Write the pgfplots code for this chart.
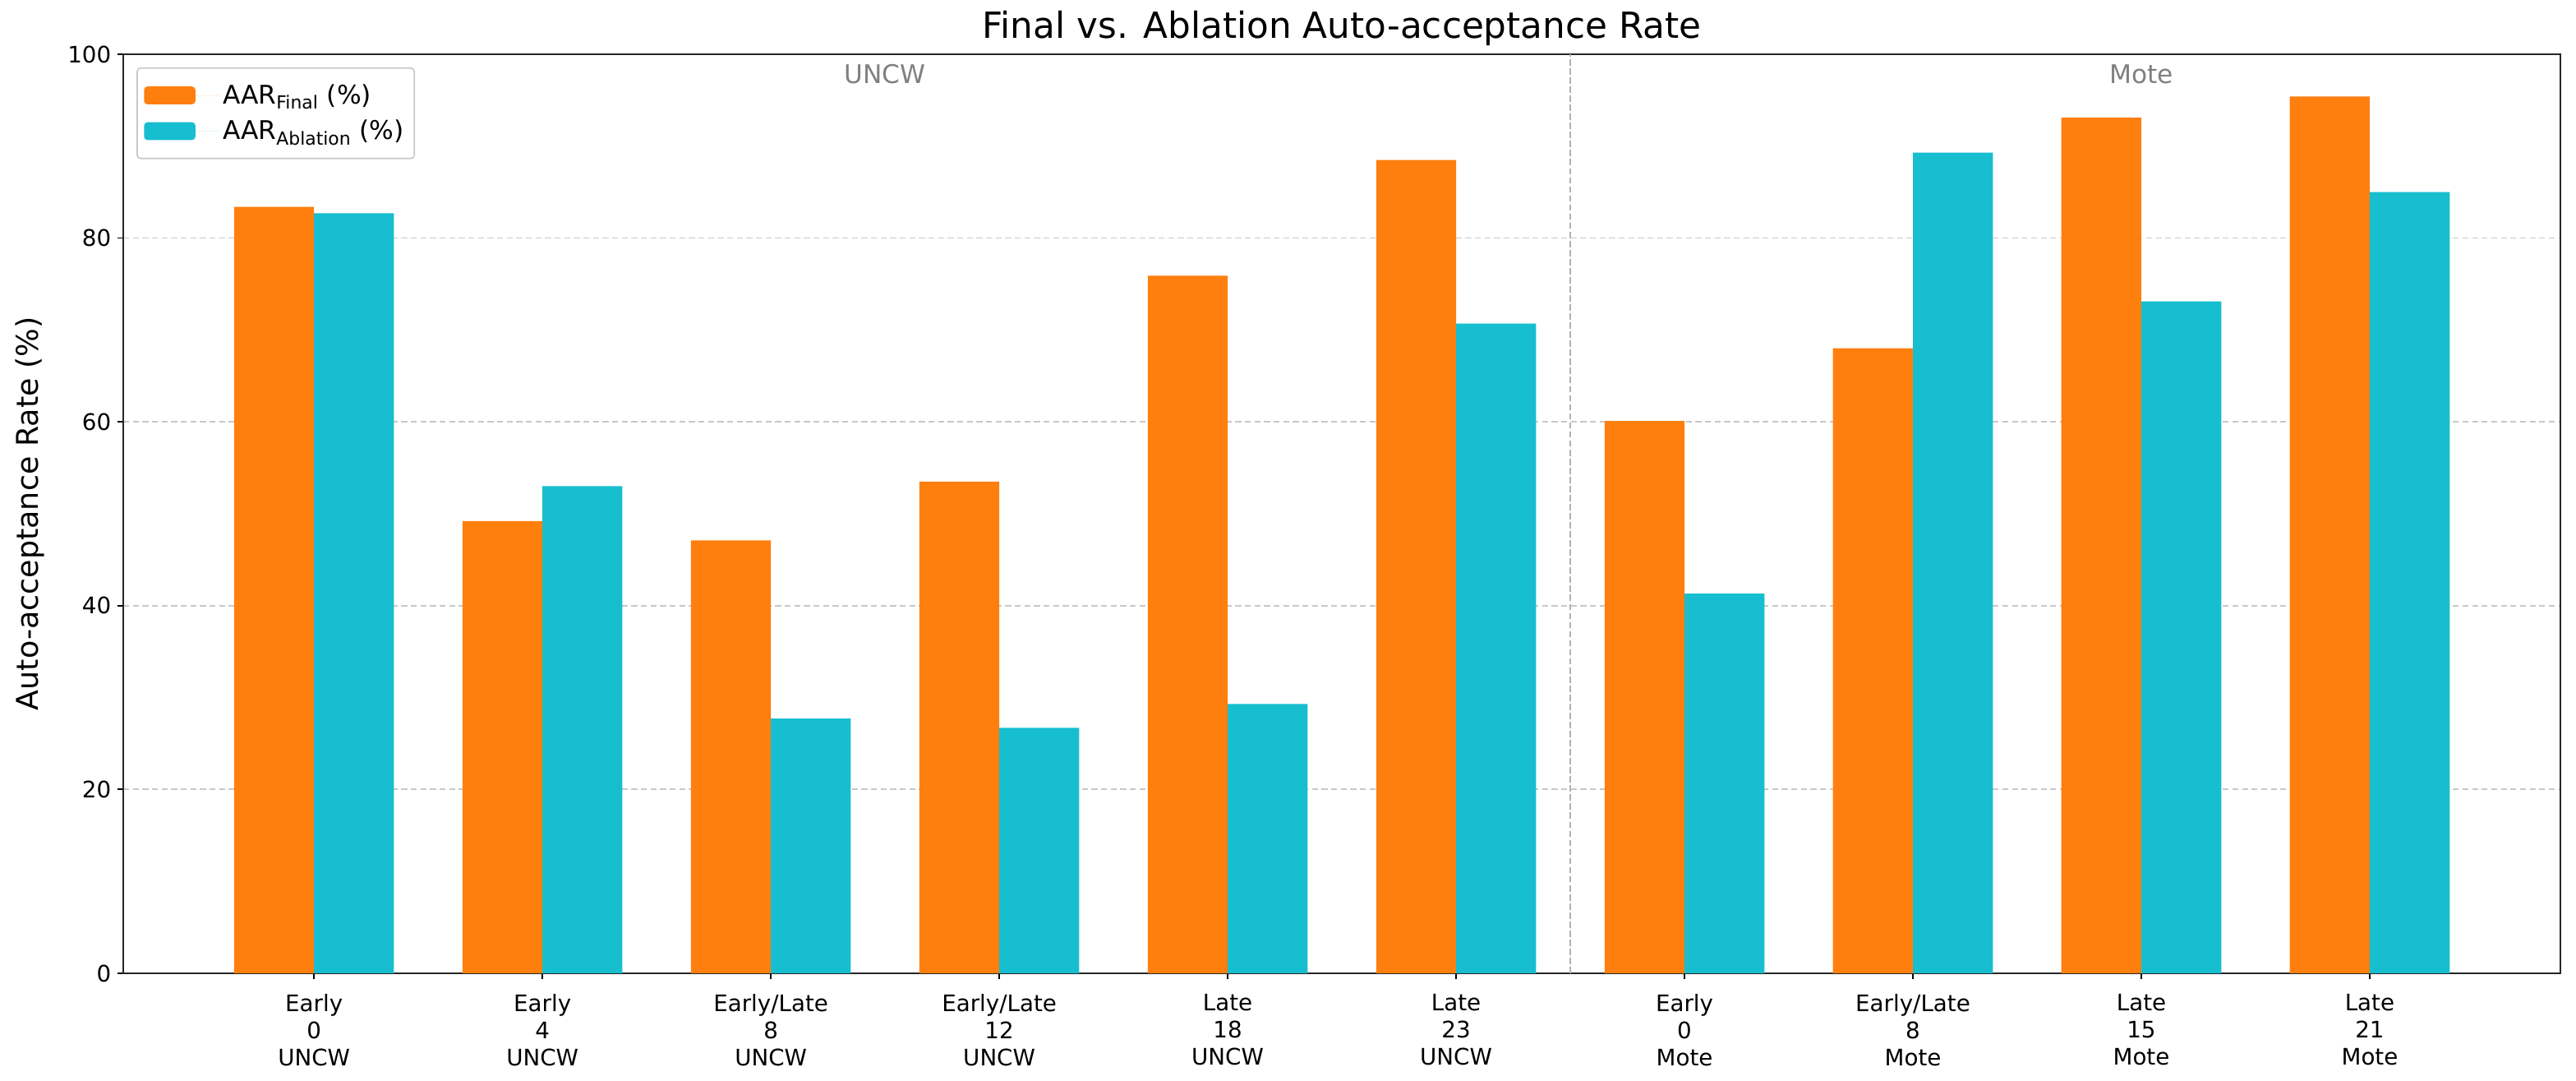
\documentclass[border=0pt]{standalone}
\usepackage{fontspec}
\setmainfont{DejaVu Sans}
\usepackage{pgfplots}
\pgfplotsset{compat=1.18}

\definecolor{cfinal}{HTML}{FF7F0E}
\definecolor{cabl}{HTML}{17BECF}
\definecolor{gridc}{HTML}{C8C8C8}

\begin{document}
\begin{tikzpicture}
\begin{axis}[
    scale only axis,
    width=1423.7pt,
    height=536.6pt,
    xmin=-0.835, xmax=9.835,
    ymin=0, ymax=100,
    xtick={0,1,2,3,4,5,6,7,8,9},
    xticklabels={
        {Early\\0\\UNCW}, {Early\\4\\UNCW}, {Early/Late\\8\\UNCW},
        {Early/Late\\12\\UNCW}, {Late\\18\\UNCW}, {Late\\23\\UNCW},
        {Early\\0\\Mote}, {Early/Late\\8\\Mote}, {Late\\15\\Mote},
        {Late\\21\\Mote}},
    ytick={0,20,40,60,80,100},
    xtick pos=bottom, ytick pos=left,
    tick align=outside,
    major tick length=3.6pt,
    tick style={black, line width=0.8pt},
    axis line style={line width=1pt, black!85},
    xticklabel style={align=center, font=\fontsize{13.3}{15.8}\selectfont, yshift=-5pt},
    yticklabel style={font=\fontsize{13.3}{16}\selectfont},
    /pgf/number format/assume math mode=true,
    ymajorgrids,
    major grid style={gridc, line width=0.8pt, dash pattern=on 3.5pt off 2.1pt},
    every axis title/.style={at={(rel axis cs:0.5,1.0286)}, anchor=center},
    title={Final vs. Ablation Auto-acceptance Rate},
    title style={font=\fontsize{21}{24}\selectfont},
    ylabel={Auto-acceptance Rate (\%)},
    ylabel style={font=\fontsize{17.5}{20}\selectfont, at={(rel axis cs:-0.0384,0.5)}, anchor=center},
    legend style={at={(rel axis cs:0,1)}, anchor=north west, xshift=7.7pt, yshift=-7.7pt,
        draw=gridc, rounded corners=2pt, fill=white, line width=0.8pt,
        font=\fontsize{15}{18}\selectfont, row sep=4pt, inner xsep=4pt, inner ysep=7.5pt},
    legend cell align=left,
    clip=false,
]
\addplot[ybar, bar width=0.35, bar shift=-0.175, fill=cfinal, draw=none,
    area legend, legend image code/.code={\fill[cfinal] (0pt,-5.2pt) rectangle (30pt,5.2pt); \path (30pt,0pt) -- (44pt,0pt);}]
    coordinates {(0,83.4) (1,49.2) (2,47.1) (3,53.5) (4,75.9) (5,88.5) (6,60.1) (7,68.0) (8,93.1) (9,95.4)};
\addlegendentry{AAR\textsubscript{Final} (\%)}
\addplot[ybar, bar width=0.35, bar shift=0.175, fill=cabl, draw=none,
    area legend, legend image code/.code={\fill[cabl] (0pt,-5.2pt) rectangle (30pt,5.2pt); \path (30pt,0pt) -- (44pt,0pt);}]
    coordinates {(0,82.7) (1,53.0) (2,27.7) (3,26.7) (4,29.3) (5,70.7) (6,41.3) (7,89.3) (8,73.1) (9,85.0)};
\addlegendentry{AAR\textsubscript{Ablation} (\%)}
\draw[gray!60, line width=0.8pt, dash pattern=on 3.7pt off 1.6pt] (axis cs:5.5,0) -- (axis cs:5.5,100);
\node[gray, font=\fontsize{15}{18}\selectfont] at (axis cs:2.5,97.8) {UNCW};
\node[gray, font=\fontsize{15}{18}\selectfont] at (axis cs:8,97.8) {Mote};
\path (rel axis cs:-0.0506,-0.117) rectangle (rel axis cs:1.0064,1.059);
\end{axis}
\end{tikzpicture}
\end{document}
